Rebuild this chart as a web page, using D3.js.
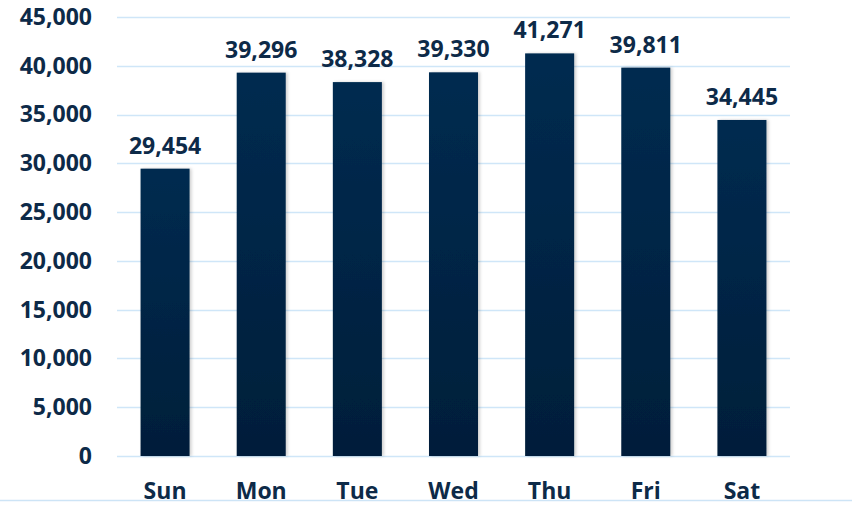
<!DOCTYPE html>
<html>
<head>
<meta charset="utf-8">
<script src="https://cdn.jsdelivr.net/npm/d3@7/dist/d3.min.js"></script>
<style>
	html, body { margin: 0; padding: 0; background: #fff; }
	svg text { font-family: "Open Sans", "Noto Sans", sans-serif; font-weight: 700; fill: #0d2a48; }
</style>
</head>
<body>
<div class="chart"></div>
<script>
var days = ["Sun", "Mon", "Tue", "Wed", "Thu", "Fri", "Sat"];
var visits = [29454, 39296, 38328, 39330, 41271, 39811, 34445];
var yTicks = [0, 5000, 10000, 15000, 20000, 25000, 30000, 35000, 40000, 45000];

var W = 852, H = 505;
var margin = { top: 17, right: 62, bottom: 49, left: 117 },
	width = W - margin.left - margin.right,
	height = H - margin.top - margin.bottom;

var FONT = "23px";

var svg = d3.select(".chart").append("svg")
	.attr("width", W)
	.attr("height", H);

var defs = svg.append("defs");

var grad = defs.append("linearGradient")
	.attr("id", "barGrad")
	.attr("x1", 0).attr("y1", 0)
	.attr("x2", 0).attr("y2", 1);
grad.append("stop").attr("offset", "0%").attr("stop-color", "#032b50");
grad.append("stop").attr("offset", "100%").attr("stop-color", "#011e3a");

var shadow = defs.append("filter")
	.attr("id", "shadow")
	.attr("x", "-20%").attr("y", "-5%")
	.attr("width", "140%").attr("height", "110%");
shadow.append("feDropShadow")
	.attr("dx", 2).attr("dy", 0)
	.attr("stdDeviation", 1.5)
	.attr("flood-color", "#000")
	.attr("flood-opacity", 0.18);

// full width rule at the bottom
svg.append("line")
	.attr("x1", 0).attr("x2", W)
	.attr("y1", 500.5).attr("y2", 500.5)
	.attr("stroke", "#cde4f6")
	.attr("stroke-width", 1.5);

var g = svg.append("g")
	.attr("transform", "translate(" + margin.left + "," + margin.top + ")");

var x = d3.scaleBand().domain(days).range([0, width]).paddingInner(0.49).paddingOuter(0.245);
var y = d3.scaleLinear().domain([0, 45000]).range([height, 0]);

// gridlines
g.append("g")
	.selectAll("line")
	.data(yTicks)
	.enter().append("line")
	.attr("x1", 0).attr("x2", width)
	.attr("y1", function (d) { return Math.round(y(d)) + 0.5; })
	.attr("y2", function (d) { return Math.round(y(d)) + 0.5; })
	.attr("stroke", "#cfe6f8")
	.attr("stroke-width", 1.5);

// y axis labels
var yAxis = d3.axisLeft(y)
	.tickValues(yTicks)
	.tickFormat(d3.format(","))
	.tickSize(0)
	.tickPadding(25);

g.append("g")
	.attr("class", "y axis")
	.call(yAxis)
	.call(function (s) { s.select(".domain").remove(); })
	.selectAll("text")
	.style("font-size", FONT);

// x axis labels
var xAxis = d3.axisBottom(x).tickSize(0).tickPadding(27);

g.append("g")
	.attr("class", "x axis")
	.attr("transform", "translate(0," + height + ")")
	.call(xAxis)
	.call(function (s) { s.select(".domain").remove(); })
	.selectAll("text")
	.style("font-size", FONT);

var data = days.map(function (d, i) { return { day: d, value: visits[i] }; });

g.selectAll(".bar")
	.data(data)
	.enter().append("rect")
	.attr("class", "bar")
	.attr("x", function (d) { return x(d.day); })
	.attr("width", x.bandwidth())
	.attr("y", function (d) { return y(d.value); })
	.attr("height", function (d) { return height - y(d.value); })
	.attr("fill", "url(#barGrad)")
	.attr("filter", "url(#shadow)");

g.selectAll(".value")
	.data(data)
	.enter().append("text")
	.attr("class", "value")
	.attr("x", function (d) { return x(d.day) + x.bandwidth() / 2; })
	.attr("y", function (d) { return y(d.value) - 15; })
	.attr("text-anchor", "middle")
	.style("font-size", FONT)
	.text(function (d) { return d3.format(",")(d.value); });
</script>
</body>
</html>
